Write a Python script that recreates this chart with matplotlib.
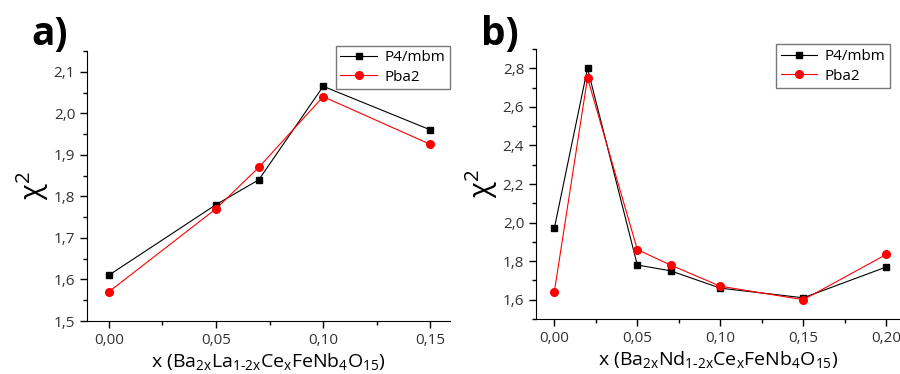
import matplotlib.pyplot as plt
from matplotlib.ticker import MultipleLocator, FuncFormatter

plt.rcParams['font.family'] = ['Open Sans', 'DejaVu Sans']
plt.rcParams['mathtext.default'] = 'regular'

# panel a
xa = [0.00, 0.05, 0.07, 0.10, 0.15]
a_p4 = [1.61, 1.78, 1.84, 2.065, 1.96]
a_pba2 = [1.57, 1.77, 1.87, 2.04, 1.925]

# panel b
xb = [0.00, 0.02, 0.05, 0.07, 0.10, 0.15, 0.20]
b_p4 = [1.97, 2.80, 1.78, 1.75, 1.66, 1.61, 1.77]
b_pba2 = [1.64, 2.75, 1.86, 1.78, 1.67, 1.60, 1.835]

comma = lambda fmt: FuncFormatter(lambda v, p: (fmt % v).replace('.', ','))

fig = plt.figure(figsize=(9, 3.74), dpi=100)
ax1 = fig.add_axes([0.0967, 0.1417, 0.403, 0.722])
ax2 = fig.add_axes([0.5956, 0.147, 0.404, 0.722])


def style(ax, x, p4, pba2, xlabel, ymaj, ymin_, yfmt, anchor):
    ax.plot(x, p4, color='black', marker='s', ms=5, lw=0.8, label='P4/mbm')
    ax.plot(x, pba2, color='red', marker='o', ms=5.5, lw=0.8, label='Pba2')
    for s in ['top', 'right']:
        ax.spines[s].set_visible(False)
    ax.xaxis.set_major_locator(MultipleLocator(0.05))
    ax.xaxis.set_minor_locator(MultipleLocator(0.025))
    ax.yaxis.set_major_locator(MultipleLocator(ymaj))
    ax.yaxis.set_minor_locator(MultipleLocator(ymin_))
    ax.xaxis.set_major_formatter(comma('%.2f'))
    ax.yaxis.set_major_formatter(comma(yfmt))
    ax.tick_params(which='major', length=5, width=1, labelsize=11, colors='black',
                   labelcolor='#333333')
    ax.tick_params(which='minor', length=3, width=1)
    ax.set_xlabel(xlabel, fontsize=14, labelpad=2)
    ax.set_ylabel(r'$\chi^{2}$', fontsize=21, labelpad=2)
    leg = ax.legend(loc='upper right', bbox_to_anchor=anchor, fontsize=11,
                    fancybox=False, edgecolor='#555555', handlelength=2.4,
                    borderpad=0.3, labelspacing=0.3, handletextpad=0.5)
    leg.get_frame().set_linewidth(1.0)


hy = '\u2010'
style(ax1, xa, a_p4, a_pba2,
      'x (Ba$_{2x}$La$_{1' + hy + '2x}$Ce$_{x}$FeNb$_{4}$O$_{15}$)', 0.1, 0.05, '%.1f',
      (1.022, 1.048))
ax1.set_xlim(-0.0101, 0.159)
ax1.set_ylim(1.5, 2.15)

style(ax2, xb, b_p4, b_pba2,
      'x (Ba$_{2x}$Nd$_{1' + hy + '2x}$Ce$_{x}$FeNb$_{4}$O$_{15}$)', 0.2, 0.1, '%.1f',
      (0.995, 1.045))
ax2.set_xlim(-0.011, 0.208)
ax2.set_ylim(1.5, 2.9)

fig.text(0.035, 0.88, 'a)', fontsize=28, fontweight='bold')
fig.text(0.535, 0.88, 'b)', fontsize=28, fontweight='bold')

fig.savefig('out.png', dpi=100)
